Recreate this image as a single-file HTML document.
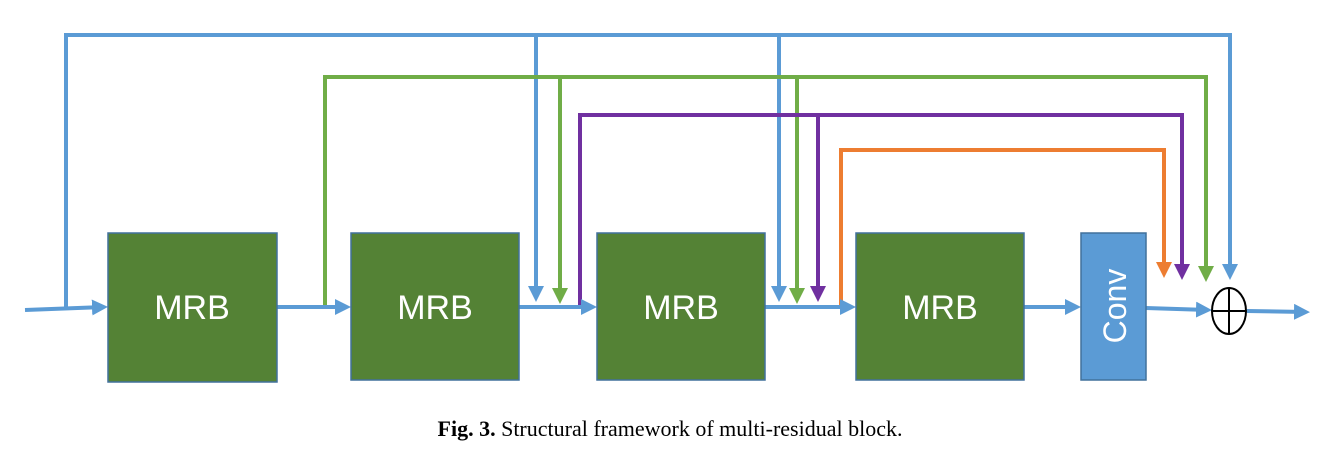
<!DOCTYPE html>
<html><head><meta charset="utf-8"><style>
body{margin:0;background:#fff;width:1330px;height:462px;overflow:hidden}
</style></head><body>
<svg width="1330" height="462" xmlns="http://www.w3.org/2000/svg">
<defs>
<marker id="ab" markerWidth="4" markerHeight="4" refX="3" refY="2" orient="auto" markerUnits="strokeWidth"><path d="M0,0L4,2L0,4z" fill="#5b9bd5"/></marker>
<marker id="ag" markerWidth="4" markerHeight="4" refX="3" refY="2" orient="auto" markerUnits="strokeWidth"><path d="M0,0L4,2L0,4z" fill="#70ad47"/></marker>
<marker id="ap" markerWidth="4" markerHeight="4" refX="3" refY="2" orient="auto" markerUnits="strokeWidth"><path d="M0,0L4,2L0,4z" fill="#7030a0"/></marker>
<marker id="ao" markerWidth="4" markerHeight="4" refX="3" refY="2" orient="auto" markerUnits="strokeWidth"><path d="M0,0L4,2L0,4z" fill="#ed7d31"/></marker>
</defs>
<g fill="none" stroke-width="4">
<!-- blue -->
<path d="M66,307V35H1230V276" stroke="#5b9bd5" marker-end="url(#ab)"/>
<path d="M536,35V298" stroke="#5b9bd5" marker-end="url(#ab)"/>
<path d="M779,35V298" stroke="#5b9bd5" marker-end="url(#ab)"/>
<!-- green -->
<path d="M325,307V77H1206V278" stroke="#70ad47" marker-end="url(#ag)"/>
<path d="M560,77V300" stroke="#70ad47" marker-end="url(#ag)"/>
<path d="M797,77V300" stroke="#70ad47" marker-end="url(#ag)"/>
<!-- purple -->
<path d="M580,307V115H1182V276" stroke="#7030a0" marker-end="url(#ap)"/>
<path d="M818,115V298" stroke="#7030a0" marker-end="url(#ap)"/>
<!-- orange -->
<path d="M841,307V150H1164V274" stroke="#ed7d31" marker-end="url(#ao)"/>
<!-- main line -->
<path d="M25,310L104,307" stroke="#5b9bd5" marker-end="url(#ab)"/>
<path d="M277,307H347" stroke="#5b9bd5" marker-end="url(#ab)"/>
<path d="M519,307H593" stroke="#5b9bd5" marker-end="url(#ab)"/>
<path d="M765,307H852" stroke="#5b9bd5" marker-end="url(#ab)"/>
<path d="M1024,307H1077" stroke="#5b9bd5" marker-end="url(#ab)"/>
<path d="M1146,308L1208,310" stroke="#5b9bd5" marker-end="url(#ab)"/>
<path d="M1247,311L1306,312" stroke="#5b9bd5" marker-end="url(#ab)"/>
</g>
<g fill="#548235" stroke="#41719c" stroke-width="1.5">
<rect x="108" y="233" width="169" height="149"/>
<rect x="351" y="233" width="168" height="147"/>
<rect x="597" y="233" width="168" height="147"/>
<rect x="856" y="233" width="168" height="147"/>
</g>
<rect x="1081" y="233" width="65" height="147" fill="#5b9bd5" stroke="#41719c" stroke-width="1.5"/>
<g font-family="Liberation Sans, sans-serif" font-size="34" fill="#fff" text-anchor="middle">
<text x="192" y="319">MRB</text>
<text x="435" y="319">MRB</text>
<text x="681" y="319">MRB</text>
<text x="940" y="319">MRB</text>
<text transform="translate(1126,306) rotate(-90)" font-size="32">Conv</text>
</g>
<ellipse cx="1229" cy="311" rx="17" ry="23" fill="#fff" stroke="#000" stroke-width="2"/>
<path d="M1212,311H1246M1229,288V334" stroke="#000" stroke-width="2"/>
<text x="670" y="436" font-family="Liberation Serif, serif" font-size="22" text-anchor="middle"><tspan font-weight="bold">Fig. 3.</tspan>  Structural framework of multi-residual block.</text>
</svg>
</body></html>
